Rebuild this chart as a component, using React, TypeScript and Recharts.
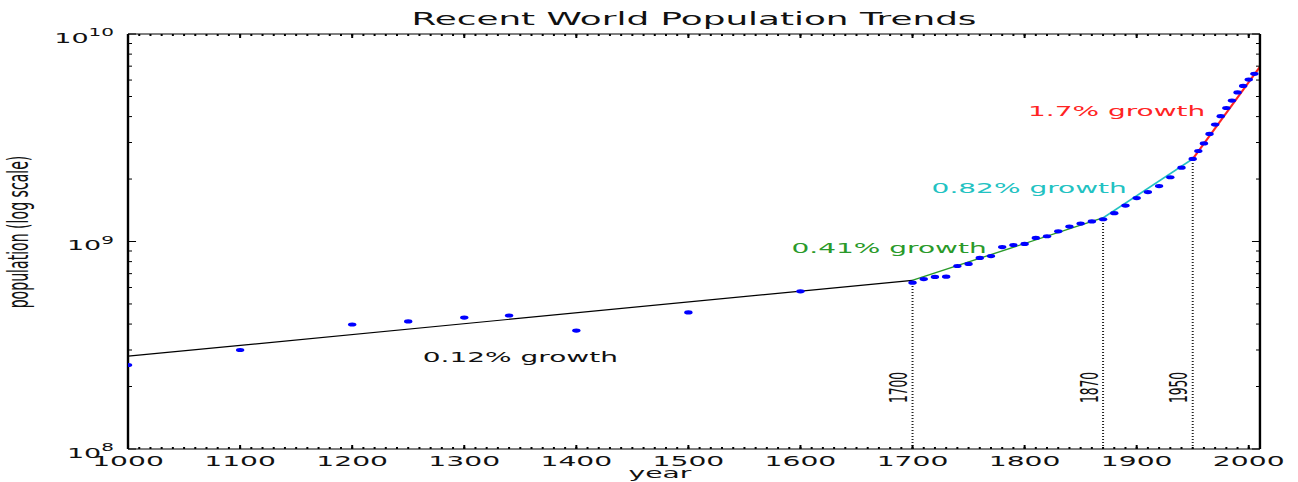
import {
  ComposedChart,
  Line,
  ReferenceDot,
  ReferenceLine,
  Scatter,
  XAxis,
  YAxis,
} from "recharts";

// the reference is a matplotlib figure stretched 2x horizontally,
// so we draw it at half width and stretch it back with a scaleX
const FONT = '"DejaVu Sans", "Bitstream Vera Sans", sans-serif';
const W = 649;
const H = 482;
const STRETCH = 2;
const INK = "#111";
const THIN = 0.01; // tick-only axes: a zero size would hide them

// population estimates (blue dots)
const YEARS = [
  1000, 1100, 1200, 1250, 1300, 1340, 1400, 1500, 1600, 1700, 1710, 1720, 1730,
  1740, 1750, 1760, 1770, 1780, 1790, 1800, 1810, 1820, 1830, 1840, 1850, 1860,
  1870, 1880, 1890, 1900, 1910, 1920, 1930, 1940, 1950, 1955, 1960, 1965, 1970,
  1975, 1980, 1985, 1990, 1995, 2000, 2005,
];
const POPULATION = [
  2.54e8, 3.0e8, 3.98e8, 4.12e8, 4.3e8, 4.4e8, 3.72e8, 4.55e8, 5.75e8, 6.33e8,
  6.59e8, 6.75e8, 6.77e8, 7.62e8, 7.8e8, 8.33e8, 8.51e8, 9.4e8, 9.62e8, 9.73e8,
  1.04e9, 1.06e9, 1.12e9, 1.18e9, 1.22e9, 1.25e9, 1.28e9, 1.37e9, 1.49e9,
  1.62e9, 1.73e9, 1.85e9, 2.04e9, 2.27e9, 2.5e9, 2.73e9, 2.97e9, 3.3e9, 3.66e9,
  4.02e9, 4.4e9, 4.78e9, 5.23e9, 5.62e9, 6.03e9, 6.43e9,
];

// piecewise growth fits
const FIT_YEARS = [1000, 1700, 1870, 1950, 2010];
const FIT_POPULATION = [2.8e8, 6.5e8, 1.3e9, 2.5e9, 6.95e9];
const FIT_COLORS = ["#000000", "#2a9a2a", "#22c2c2", "#ff2424"];
const GROWTH_TEXT = ["0.12% growth", "0.41% growth", "0.82% growth", "1.7% growth"];
const GROWTH_AT = [
  [1263, 2.62e8],
  [1592, 8.8e8],
  [1717, 1.71e9],
  [1803, 4.03e9],
];
const BREAK_YEARS = [1700, 1870, 1950];
const BREAK_LABEL_POP = 1.667e8;

// axes
const YEAR_DOMAIN = [1000, 2010];
const POP_DOMAIN = [1e8, 1e10];
const YEAR_TICKS = [1000, 1100, 1200, 1300, 1400, 1500, 1600, 1700, 1800, 1900, 2000];
const POP_TICKS = [1e8, 1e9, 1e10];
const YEAR_MINOR = Array.from({ length: 100 }, (_, i) => 1010 + i * 10);
const POP_MINOR = [
  2e8, 3e8, 4e8, 5e8, 6e8, 7e8, 8e8, 9e8, 2e9, 3e9, 4e9, 5e9, 6e9, 7e9, 8e9, 9e9,
];

const points = YEARS.map((year, i) => ({ year, pop: POPULATION[i] }));
const segments = FIT_COLORS.map((color, i) => ({
  color,
  data: [
    { year: FIT_YEARS[i], pop: FIT_POPULATION[i] },
    { year: FIT_YEARS[i + 1], pop: FIT_POPULATION[i + 1] },
  ],
}));

const tickStroke = { stroke: "#000", strokeWidth: 1 };
const spine = { stroke: "#000", strokeWidth: 1.2 };

const X_TICK_AXES = [
  { id: "bMinor", orientation: "bottom", ticks: YEAR_MINOR, size: -2, line: false },
  { id: "bMajor", orientation: "bottom", ticks: YEAR_TICKS, size: -4, line: false },
  { id: "tMinor", orientation: "top", ticks: YEAR_MINOR, size: -2, line: false },
  { id: "tMajor", orientation: "top", ticks: YEAR_TICKS, size: -4, line: true },
] as const;

const Y_TICK_AXES = [
  { id: "lMinor", orientation: "left", ticks: POP_MINOR, size: -2, line: false },
  { id: "lMajor", orientation: "left", ticks: POP_TICKS, size: -4, line: false },
  { id: "rMinor", orientation: "right", ticks: POP_MINOR, size: -2, line: false },
  { id: "rMajor", orientation: "right", ticks: POP_TICKS, size: -4, line: true },
] as const;

const NoLabel = () => <g />;

function YearTick(p: any) {
  return (
    <text
      x={p.x}
      y={p.y + 17}
      textAnchor="middle"
      fontFamily={FONT}
      fontSize={14.1}
      fill={INK}
    >
      {p.payload.value}
    </text>
  );
}

function PopTick(p: any) {
  const exp = Math.round(Math.log10(p.payload.value));
  return (
    <text
      x={p.x - 7}
      y={p.y + 8.8}
      textAnchor="end"
      fontFamily={FONT}
      fontSize={13.5}
      fill={INK}
    >
      10
      <tspan dy={-6.5} fontSize={10}>
        {exp}
      </tspan>
    </text>
  );
}

function BlueDot(p: any) {
  return <circle cx={p.cx} cy={p.cy} r={2.1} fill="#0000ff" />;
}

export default function App() {
  return (
    <div
      style={{
        position: "absolute",
        left: 0,
        top: 0,
        width: W,
        height: H,
        background: "#fff",
        transform: `scaleX(${STRETCH})`,
        transformOrigin: "0 0",
      }}
    >
      <ComposedChart
        width={W}
        height={H}
        margin={{ top: 34, right: 19, bottom: 0, left: 0 }}
      >
        {X_TICK_AXES.map((a) => (
          <XAxis
            key={a.id}
            xAxisId={a.id}
            orientation={a.orientation}
            type="number"
            dataKey="year"
            domain={YEAR_DOMAIN}
            allowDataOverflow
            ticks={a.ticks as unknown as number[]}
            interval={0}
            tick={NoLabel}
            tickSize={a.size}
            tickLine={tickStroke}
            axisLine={a.line ? spine : false}
            height={THIN}
          />
        ))}
        {Y_TICK_AXES.map((a) => (
          <YAxis
            key={a.id}
            yAxisId={a.id}
            orientation={a.orientation}
            type="number"
            scale="log"
            dataKey="pop"
            domain={POP_DOMAIN}
            allowDataOverflow
            ticks={a.ticks as unknown as number[]}
            interval={0}
            tick={NoLabel}
            tickSize={a.size}
            tickLine={tickStroke}
            axisLine={a.line ? spine : false}
            width={THIN}
          />
        ))}
        <XAxis
          xAxisId="x"
          type="number"
          dataKey="year"
          domain={YEAR_DOMAIN}
          allowDataOverflow
          ticks={YEAR_TICKS}
          interval={0}
          tick={YearTick}
          tickLine={false}
          tickSize={0}
          tickMargin={0}
          axisLine={spine}
          height={33}
        />
        <YAxis
          yAxisId="y"
          type="number"
          scale="log"
          dataKey="pop"
          domain={POP_DOMAIN}
          allowDataOverflow
          ticks={POP_TICKS}
          interval={0}
          tick={PopTick}
          tickLine={false}
          tickSize={0}
          tickMargin={0}
          axisLine={spine}
          width={64}
        />

        {BREAK_YEARS.map((year, i) => (
          <ReferenceLine
            key={`b${year}`}
            xAxisId="x"
            yAxisId="y"
            ifOverflow="visible"
            segment={[
              { x: year, y: POP_DOMAIN[0] },
              { x: year, y: FIT_POPULATION[i + 1] },
            ]}
            stroke="#222"
            strokeWidth={1}
            strokeDasharray="1.1 1.9"
          />
        ))}
        {BREAK_YEARS.map((year) => (
          <ReferenceDot
            key={`bl${year}`}
            xAxisId="x"
            yAxisId="y"
            x={year}
            y={BREAK_LABEL_POP}
            ifOverflow="visible"
            shape={(p: any) => (
              <text
                x={p.cx - 2.7}
                y={p.cy}
                transform={`rotate(-90 ${p.cx - 2.7} ${p.cy})`}
                fontFamily={FONT}
                fontSize={12.2}
                fill={INK}
              >
                {year}
              </text>
            )}
          />
        ))}

        {segments.map((s, i) => (
          <Line
            key={`fit${i}`}
            xAxisId="x"
            yAxisId="y"
            data={s.data}
            dataKey="pop"
            stroke={s.color}
            strokeWidth={1.2}
            dot={false}
            activeDot={false}
            isAnimationActive={false}
          />
        ))}
        <Scatter
          xAxisId="x"
          yAxisId="y"
          data={points}
          dataKey="pop"
          shape={BlueDot}
          isAnimationActive={false}
        />

        {GROWTH_TEXT.map((text, i) => (
          <ReferenceDot
            key={text}
            xAxisId="x"
            yAxisId="y"
            x={GROWTH_AT[i][0]}
            y={GROWTH_AT[i][1]}
            ifOverflow="visible"
            shape={(p: any) => (
              <text
                x={p.cx}
                y={p.cy}
                fontFamily={FONT}
                fontSize={14}
                fill={FIT_COLORS[i] === "#000000" ? INK : FIT_COLORS[i]}
              >
                {text}
              </text>
            )}
          />
        ))}
      </ComposedChart>

      <svg
        width={W}
        height={H}
        style={{ position: "absolute", left: 0, top: 0, pointerEvents: "none" }}
      >
        <text
          x={347}
          y={25.5}
          textAnchor="middle"
          fontFamily={FONT}
          fontSize={17.9}
          fill={INK}
        >
          Recent World Population Trends
        </text>
        <text
          x={14}
          y={232}
          transform="rotate(-90 14 232)"
          textAnchor="middle"
          fontFamily={FONT}
          fontSize={14.1}
          fill={INK}
        >
          population (log scale)
        </text>
        <text
          x={330}
          y={478.5}
          textAnchor="middle"
          fontFamily={FONT}
          fontSize={14.1}
          fill={INK}
        >
          year
        </text>
      </svg>
    </div>
  );
}
